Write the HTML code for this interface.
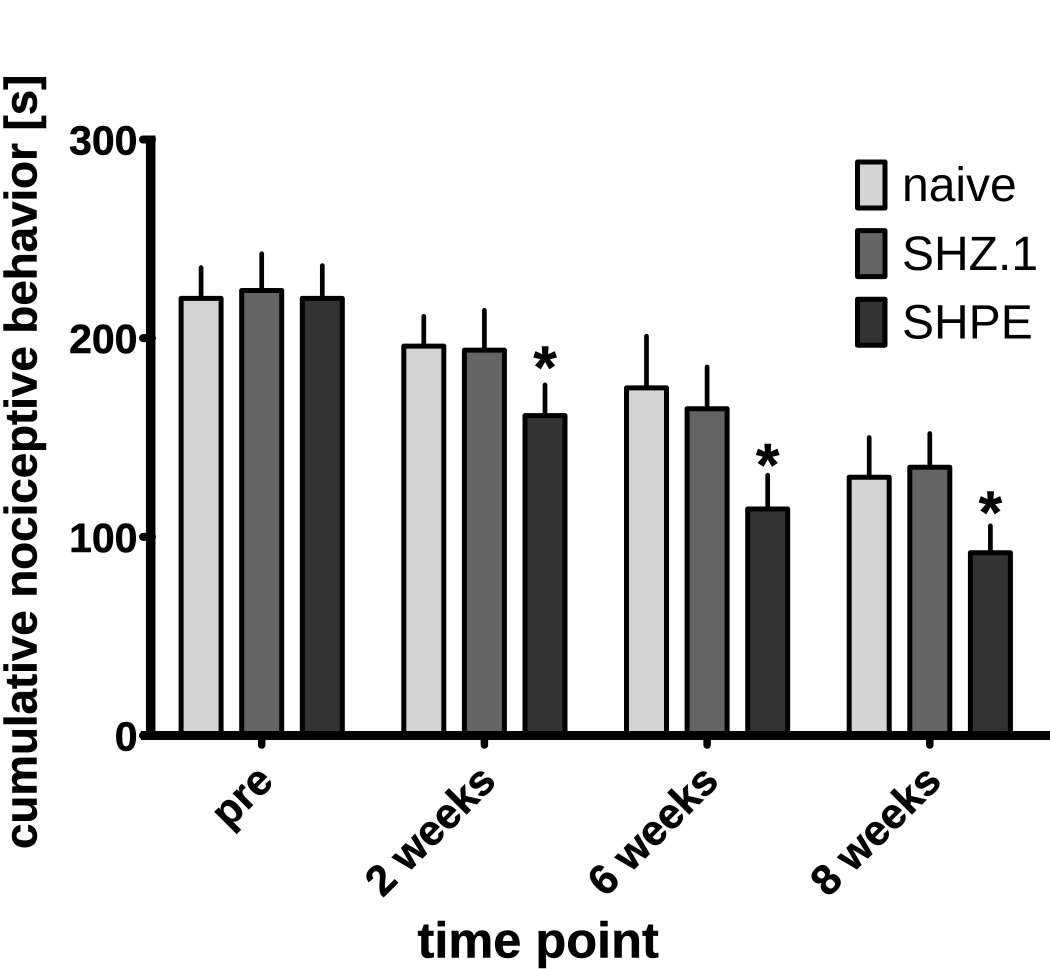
<!DOCTYPE html>
<html>
<head>
<meta charset="utf-8">
<style>
html,body{margin:0;padding:0;background:#fff;width:1050px;height:969px;overflow:hidden}
svg{display:block}
text{font-family:"Liberation Sans",Arial,sans-serif;fill:#000}
.b{font-weight:bold;stroke:#000;stroke-width:0.5px}
</style>
</head>
<body>
<svg id="chart" xmlns="http://www.w3.org/2000/svg" width="1050" height="969" viewBox="0 0 1050 969"></svg>
<script>
const categories = ["pre", "2 weeks", "6 weeks", "8 weeks"];
const seriesNames = ["naive", "SHZ.1", "SHPE"];
const seriesColors = ["#d4d4d4", "#646464", "#333333"];
const naiveValues = [220, 196, 175, 130];
const shz1Values = [224, 194, 164.5, 135];
const shpeValues = [220, 161, 114, 92];
const naiveErrors = [15.5, 15, 26, 20];
const shz1Errors = [18.5, 20, 21, 17];
const shpeErrors = [16.5, 15.5, 17, 13.5];
const starLevels = [null, 189, 140, 116];
const yTicks = [0, 100, 200, 300];
const yTitle = "cumulative nociceptive behavior [s]";
const xTitle = "time point";

const svg = document.getElementById("chart");
const NS = "http://www.w3.org/2000/svg";
const values = [naiveValues, shz1Values, shpeValues];
const errors = [naiveErrors, shz1Errors, shpeErrors];

function y(v){ return 735.5 - v * (596 / 300); }
function groupX(i){ return 261.7 + i * 222.7; }
function barX(i, s){ return groupX(i) + (s - 1) * 60.6; }
function make(tag, attrs, text){
  const el = document.createElementNS(NS, tag);
  for (const k in attrs) el.setAttribute(k, attrs[k]);
  if (text !== undefined) el.textContent = text;
  svg.appendChild(el);
  return el;
}

categories.forEach(function(cat, i){
  seriesNames.forEach(function(name, s){
    const cx = barX(i, s);
    const v = values[s][i];
    const e = errors[s][i];
    const err = make("line", {x1:cx, x2:cx, y1:y(v), y2:y(v + e), stroke:"#000", "stroke-width":4.7, "stroke-linecap":"round"});
    
    
    const bar = make("rect", {x:cx - 20, y:y(v), width:40, height:735.5 - y(v), fill:seriesColors[s], stroke:"#000", "stroke-width":5, "stroke-linejoin":"round"});
    
    
  });
  if (starLevels[i] !== null) {
    const star = make("text", {x:barX(i, 2), y:y(starLevels[i]) + 28, "text-anchor":"middle", "font-size":60, class:"b"}, "*");
    
    
  }
  const tick = make("line", {x1:groupX(i), x2:groupX(i), y1:736, y2:745, stroke:"#000", "stroke-width":7.5, "stroke-linecap":"round"});
  
  
  const lx = groupX(i) + 13.5, ly = 783;
  const lab = make("text", {x:lx, y:ly, "text-anchor":"end", "font-size":42.5, class:"b", transform:"rotate(-45 " + lx + " " + ly + ")"}, cat);
  
  
});

yTicks.forEach(function(t){
  const tick = make("line", {x1:143, x2:152, y1:y(t), y2:y(t), stroke:"#000", "stroke-width":8, "stroke-linecap":"round"});
  
  
  const lab = make("text", {x:137.5, y:y(t) + 15, "text-anchor":"end", "font-size":41, class:"b"}, String(t));
  
  
});

const yAxis = make("line", {x1:150.7, x2:150.7, y1:y(300) - 4, y2:740, stroke:"#000", "stroke-width":9.5});


const xAxis = make("line", {x1:141, x2:1050, y1:735.5, y2:735.5, stroke:"#000", "stroke-width":9});



const yt = make("text", {x:0, y:0, "font-size":45.7, class:"b", transform:"translate(36.5 849) rotate(-90)"}, yTitle);


const xt = make("text", {x:417.5, y:957.5, "font-size":50.5, class:"b"}, xTitle);



seriesNames.forEach(function(name, s){
  const top = 162 + s * 68.6;
  const sw = make("rect", {x:857.5, y:top, width:27.5, height:46, fill:seriesColors[s], stroke:"#000", "stroke-width":5, "stroke-linejoin":"round"});
  
  
  const tx = make("text", {x:902, y:top + 39.2, "font-size":48}, name);
  
  
});
</script>
</body>
</html>
